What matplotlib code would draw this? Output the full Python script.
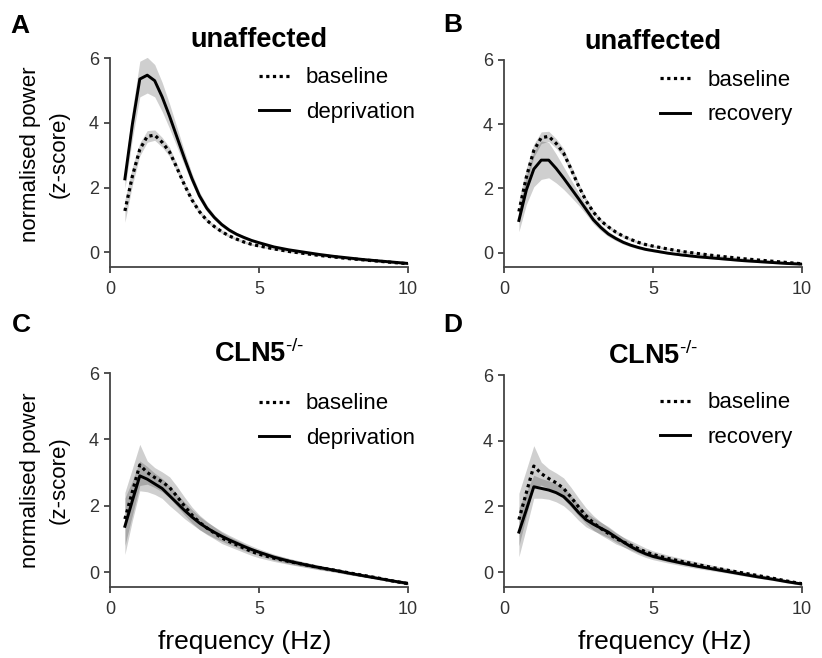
import matplotlib
matplotlib.use("Agg")
import matplotlib.pyplot as plt
import numpy as np

plt.rcParams['font.family'] = ['Liberation Sans', 'DejaVu Sans']
plt.rcParams['mathtext.fontset'] = 'custom'
plt.rcParams['mathtext.rm'] = 'Liberation Sans'
plt.rcParams['mathtext.default'] = 'regular'

freq = [0.5, 0.75, 1.0, 1.25, 1.5, 1.75, 2.0, 2.25, 2.5, 2.75, 3.0, 3.25, 3.5, 3.75,
        4.0, 4.25, 4.5, 4.75, 5.0, 5.5, 6.0, 6.5, 7.0, 7.5, 8.0, 8.5, 9.0, 9.5, 10.0]

# unaffected
base_wt = [1.28, 2.35, 3.18, 3.58, 3.62, 3.4, 3.1, 2.6, 2.08, 1.62, 1.26, 0.99, 0.8,
           0.64, 0.51, 0.41, 0.32, 0.25, 0.2, 0.11, 0.03, -0.03, -0.09, -0.14, -0.19,
           -0.23, -0.27, -0.31, -0.35]
base_wt_sem = [0.35, 0.28, 0.2, 0.18, 0.16, 0.15, 0.14, 0.12, 0.1, 0.08, 0.07, 0.06,
               0.05, 0.05, 0.04, 0.04, 0.04, 0.03, 0.03, 0.03, 0.03, 0.03, 0.03, 0.03,
               0.03, 0.03, 0.03, 0.03, 0.03]
dep_wt = [2.27, 3.95, 5.35, 5.47, 5.3, 4.8, 4.2, 3.55, 2.9, 2.28, 1.75, 1.36, 1.08,
          0.86, 0.69, 0.56, 0.46, 0.37, 0.3, 0.17, 0.08, 0.01, -0.06, -0.12, -0.17,
          -0.22, -0.26, -0.3, -0.34]
dep_wt_sem = [0.3, 0.45, 0.55, 0.55, 0.5, 0.45, 0.38, 0.3, 0.22, 0.16, 0.12, 0.1, 0.08,
              0.07, 0.06, 0.05, 0.05, 0.04, 0.04, 0.03, 0.03, 0.03, 0.03, 0.03, 0.03,
              0.03, 0.03, 0.03, 0.03]
rec_wt = [1.0, 1.95, 2.6, 2.88, 2.88, 2.62, 2.32, 2.0, 1.68, 1.35, 1.02, 0.78, 0.58,
          0.44, 0.32, 0.23, 0.16, 0.1, 0.06, -0.02, -0.08, -0.13, -0.17, -0.21, -0.25,
          -0.28, -0.31, -0.34, -0.36]
rec_wt_sem = [0.35, 0.45, 0.55, 0.6, 0.55, 0.45, 0.35, 0.27, 0.2, 0.15, 0.12, 0.1, 0.08,
              0.07, 0.06, 0.05, 0.05, 0.04, 0.04, 0.03, 0.03, 0.03, 0.03, 0.03, 0.03,
              0.03, 0.03, 0.03, 0.03]

# CLN5-/-
base_ko = [1.6, 2.42, 3.23, 3.0, 2.85, 2.72, 2.55, 2.28, 1.99, 1.72, 1.5, 1.33, 1.18,
           1.03, 0.92, 0.82, 0.72, 0.62, 0.54, 0.42, 0.32, 0.23, 0.14, 0.06, -0.02,
           -0.1, -0.18, -0.27, -0.35]
base_ko_sem = [0.8, 0.7, 0.62, 0.35, 0.3, 0.3, 0.32, 0.3, 0.27, 0.24, 0.22, 0.2, 0.18,
               0.17, 0.15, 0.14, 0.13, 0.12, 0.11, 0.1, 0.09, 0.08, 0.07, 0.06, 0.05,
               0.05, 0.04, 0.04, 0.04]
dep_ko = [1.38, 2.15, 2.9, 2.8, 2.66, 2.52, 2.3, 2.08, 1.86, 1.66, 1.48, 1.33, 1.2,
          1.08, 0.97, 0.87, 0.77, 0.68, 0.6, 0.45, 0.33, 0.23, 0.14, 0.06, -0.03,
          -0.11, -0.19, -0.27, -0.34]
dep_ko_sem = [0.85, 0.6, 0.45, 0.38, 0.32, 0.3, 0.3, 0.27, 0.25, 0.22, 0.2, 0.18, 0.17,
              0.15, 0.14, 0.13, 0.12, 0.11, 0.1, 0.09, 0.08, 0.07, 0.06, 0.05, 0.05,
              0.04, 0.04, 0.04, 0.04]
rec_ko = [1.22, 1.9, 2.6, 2.55, 2.5, 2.42, 2.3, 2.08, 1.82, 1.6, 1.46, 1.34, 1.22,
          1.07, 0.92, 0.78, 0.66, 0.56, 0.48, 0.37, 0.27, 0.18, 0.1, 0.02, -0.06,
          -0.14, -0.21, -0.29, -0.36]
rec_ko_sem = [0.75, 0.55, 0.35, 0.3, 0.28, 0.28, 0.28, 0.26, 0.24, 0.22, 0.2, 0.18,
              0.17, 0.15, 0.14, 0.13, 0.12, 0.11, 0.1, 0.09, 0.08, 0.07, 0.06, 0.05,
              0.05, 0.04, 0.04, 0.04, 0.04]

panel_letters = ['A', 'B', 'C', 'D']
titles = ['unaffected', 'unaffected', r'CLN5$^{\text{-/-}}$', r'CLN5$^{\text{-/-}}$']
cond_labels = ['deprivation', 'recovery', 'deprivation', 'recovery']
x_ticks = [0, 5, 10]
y_ticks = [0, 2, 4, 6]

panels = [
    (base_wt, base_wt_sem, dep_wt, dep_wt_sem),
    (base_wt, base_wt_sem, rec_wt, rec_wt_sem),
    (base_ko, base_ko_sem, dep_ko, dep_ko_sem),
    (base_ko, base_ko_sem, rec_ko, rec_ko_sem),
]

fig = plt.figure(figsize=(8.22, 6.58), dpi=100)
positions = [
    (110 / 822, 1 - 267 / 658, 298 / 822, 209 / 658),
    (504 / 822, 1 - 267 / 658, 298 / 822, 207 / 658),
    (110 / 822, 1 - 587 / 658, 298 / 822, 214 / 658),
    (504 / 822, 1 - 587 / 658, 298 / 822, 212 / 658),
]
letter_pos = [(10, 26), (443, 25), (12, 325), (443, 325)]
legend_anchor = [(0.5, 0.955), (0.525, 0.951), (0.5, 0.905), (0.525, 0.918)]
ylabel_y = [0.54, None, 0.5, None]
xlabel_x = [None, None, 0.453, 0.54]

axis_col = '#444444'
f = np.array(freq)
for i, (bm, bs, cm, cs) in enumerate(panels):
    ax = fig.add_axes(positions[i])
    bm, bs, cm, cs = map(np.array, (bm, bs, cm, cs))
    ax.fill_between(f, bm - bs, bm + bs, color='black', alpha=0.19, lw=0)
    ax.fill_between(f, cm - cs, cm + cs, color='black', alpha=0.19, lw=0)
    ax.plot(f, bm, color='black', lw=2.3, dashes=(1, 1.1), dash_capstyle='butt',
            label='baseline')
    ax.plot(f, cm, color='black', lw=2.1, label=cond_labels[i])
    ax.set_xlim(0, 10)
    ax.set_ylim(-0.45, 6)
    ax.set_xticks(x_ticks)
    ax.set_yticks(y_ticks)
    for s in ['top', 'right']:
        ax.spines[s].set_visible(False)
    for s in ['left', 'bottom']:
        ax.spines[s].set_color(axis_col)
        ax.spines[s].set_linewidth(1.3)
    ax.tick_params(axis='both', direction='out', length=4, width=1.3, color=axis_col,
                   labelcolor='#333333', labelsize=13)
    ax.tick_params(axis='x', pad=6)
    ax.tick_params(axis='y', pad=4)
    ax.set_title(titles[i], fontsize=19.5, fontweight='bold', pad=8)
    if ylabel_y[i] is not None:
        ax.set_ylabel('normalised power\n(z-score)', fontsize=16, labelpad=14,
                      linespacing=1.45)
        ax.yaxis.label.set_y(ylabel_y[i])
    if xlabel_x[i] is not None:
        ax.set_xlabel('frequency (Hz)', fontsize=19, labelpad=9)
        ax.xaxis.label.set_x(xlabel_x[i])
    ax.legend(loc='upper left', bbox_to_anchor=legend_anchor[i], frameon=False,
              fontsize=16, handlelength=1.35, handletextpad=0.75, labelspacing=0.6,
              borderpad=0, borderaxespad=0)
    fig.text(letter_pos[i][0] / 822, 1 - letter_pos[i][1] / 658, panel_letters[i],
             fontsize=19, fontweight='bold', ha='left', va='center')

fig.savefig('out.png', dpi=100, facecolor='white')
